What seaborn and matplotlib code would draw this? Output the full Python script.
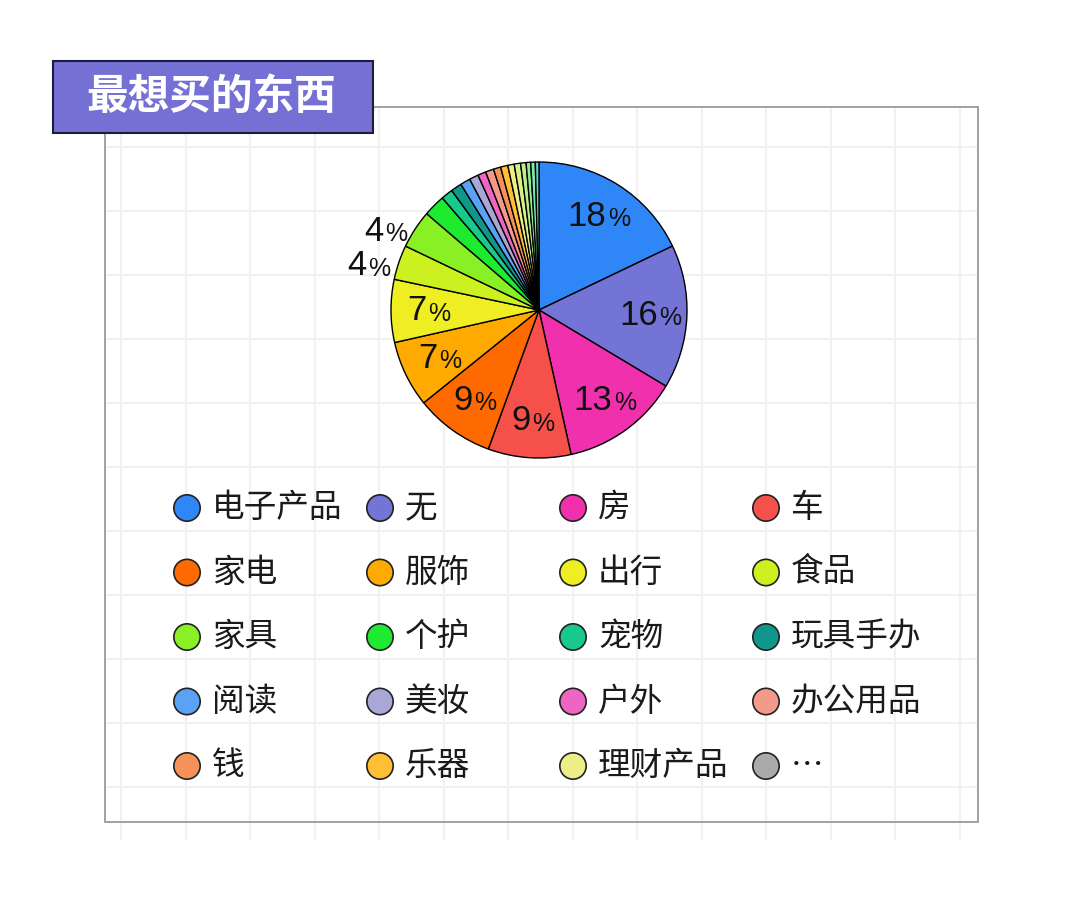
import numpy as np
import pandas as pd
import matplotlib
matplotlib.use('Agg')
import matplotlib.pyplot as plt
import seaborn as sns
from matplotlib.patches import Rectangle
from matplotlib.transforms import ScaledTranslation

# data (percent of answers)
names = ['电子产品', '无', '房', '车', '家电', '服饰', '出行', '食品', '家具', '个护',
         '宠物', '玩具手办', '阅读', '美妆', '户外', '办公用品', '钱', '乐器', '理财产品']
shares = [18.0, 15.8, 13.0, 9.1, 8.7, 7.3, 6.9, 3.8, 4.2, 2.4,
          1.3, 1.2, 1.1, 1.0, 0.9, 0.9, 0.8, 0.8, 0.7]
colors = ['#2f86f6', '#7473d6', '#f030ac', '#f5504a', '#ff6a00', '#ffaa00', '#eeee22',
          '#ccf020', '#88f025', '#1eeb30', '#17c98c', '#10968a', '#5aa2f5', '#a9a7d6',
          '#ee66c4', '#f49a8a', '#f5925a', '#ffbe33', '#eeee88']
# unnamed tail ("…")
tail_shares = [0.7, 0.6, 0.5, 0.5, 0.4]
tail_colors = ['#d9f08a', '#b8f08a', '#90ee90', '#7ee8b0', '#60d8c0']
more_name = '…'
more_color = '#aaaaaa'

sns.set_style('white')
plt.rcParams['font.family'] = ['Noto Sans CJK SC', 'DejaVu Sans']

W, H = 1080, 918
fig = plt.figure(figsize=(10.8, 9.18), dpi=100)


def fbox(x0, y0, x1, y1):
    # pixel box (top-left origin) -> figure fraction rect
    return [x0 / W, 1 - y1 / H, (x1 - x0) / W, (y1 - y0) / H]


# faint grid paper behind everything
bg = fig.add_axes(fbox(105, 107, 978, 840))
bg.set_xlim(105, 978)
bg.set_ylim(840, 107)
bg.set_xticks(np.arange(121, 978, 64.5))
bg.set_yticks(np.arange(147, 840, 64))
bg.grid(True, color='#f1f1f1', lw=1.6)
bg.tick_params(length=0, labelbottom=False, labelleft=False)
for s in bg.spines.values():
    s.set_visible(False)

# panel frame and title box
fig.add_artist(Rectangle((105 / W, 1 - 822 / H), 873 / W, 715 / H, transform=fig.transFigure,
                         fill=False, ec='#9a9a9a', lw=1.3, zorder=2))
fig.add_artist(Rectangle((53 / W, 1 - 133 / H), 320 / W, 72 / H, transform=fig.transFigure,
                         fc='#7570d3', ec='#1c1c3c', lw=1.5, zorder=5))
fig.text(211 / W, 1 - 97 / H, '最想买的东西', color='white', fontsize=30, fontweight='bold',
         ha='center', va='center', zorder=6)

# pie
R = 148
cx, cy = 539, 310
pax = fig.add_axes(fbox(cx - 1.3 * R, cy - 1.3 * R, cx + 1.3 * R, cy + 1.3 * R))
wedges, _, autotexts = pax.pie(
    shares + tail_shares, colors=colors + tail_colors, startangle=90, counterclock=False,
    wedgeprops=dict(edgecolor='black', linewidth=1.0),
    autopct=lambda p: f'{p:.0f}' if p >= 3.5 else '', pctdistance=0.75,
    textprops=dict(fontsize=25, family='Liberation Sans', color='#111'))
pax.set_xlim(-1.3, 1.3)
pax.set_ylim(-1.3, 1.3)
pax.set_aspect('equal')
pax.axis('off')

total = sum(shares + tail_shares)
pct_w = 22  # width of the small % sign, px
for t, v in zip(autotexts, shares + tail_shares):
    if not t.get_text():
        continue
    if v / total * 100 < 5:
        # outside label, right edge touching the rim
        x, y = t.get_position()
        t.set_position((x * 1.05 / 0.75, y * 1.05 / 0.75))
        t.set_ha('right')
        dx, dy = -pct_w - 3, -6
    else:
        dx, dy = -pct_w / 2, 0
    t.set_transform(t.get_transform() + ScaledTranslation(dx / 100, dy / 100, fig.dpi_scale_trans))
    pax.annotate('%', xy=(1, 0.2), xycoords=t, xytext=(1, 0), textcoords='offset points',
                 fontsize=18, family='Liberation Sans', color='#111', ha='left', va='baseline')

# legend grid: 4 columns x 5 rows
leg_names = names + [more_name]
leg_colors = colors + [more_color]
idx = np.arange(len(leg_names))
df = pd.DataFrame({'col': idx % 4, 'row': idx // 4, 'name': leg_names})

lax = fig.add_axes(fbox(90.5, 475.75, 862.5, 798.25))
sns.scatterplot(data=df, x='col', y='row', hue='name', palette=dict(zip(leg_names, leg_colors)),
                s=360, edgecolor='#222', linewidth=1.2, legend=False, ax=lax)
for _, r in df.iterrows():
    lax.text(r['col'] + 0.13, r['row'], r['name'], ha='left', va='center',
             fontsize=23.5, color='#1a1a1a')
lax.set_xlim(-0.5, 3.5)
lax.set_ylim(4.5, -0.5)
lax.axis('off')

fig.savefig('out.png', dpi=100, facecolor='white')
